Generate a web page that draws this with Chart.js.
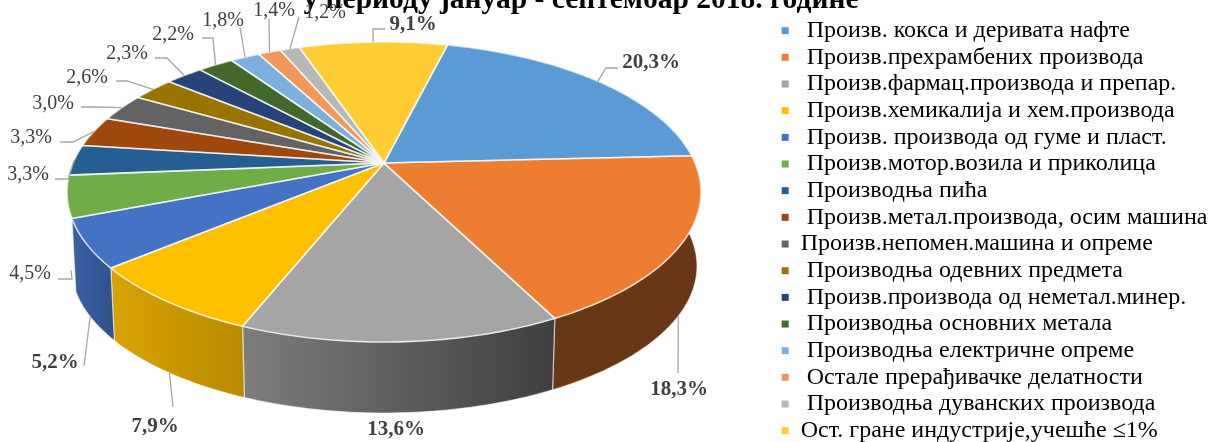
<!DOCTYPE html>
<html>
<head>
<meta charset="utf-8">
<style>
  html, body { margin: 0; padding: 0; background: #fff; overflow: hidden; }
  canvas { display: block; }
</style>
<script src="https://cdn.jsdelivr.net/npm/chart.js@4"></script>
</head>
<body>
<canvas id="grafikon" width="1217" height="442"></canvas>
<script>
// Podaci sa slike
const naslov = "у периоду јануар - септембар 2018. године";
// razmak na pocetku je namjeran, legenda u originalu ima isti uvlak
const kategorije = [
  " Произв. кокса и деривата нафте",
  " Произв.прехрамбених производа",
  " Произв.фармац.производа и препар.",
  " Произв.хемикалија и хем.производа",
  " Произв. производа од гуме и пласт.",
  " Произв.мотор.возила и приколица",
  " Производња пића",
  " Произв.метал.производа, осим машина",
  "Произв.непомен.машина и опреме",
  " Производња одевних предмета",
  " Произв.производа од неметал.минер.",
  " Производња основних метала",
  " Производња електричне опреме",
  " Остале прерађивачке делатности",
  " Производња дуванских производа",
  "Ост. гране индустрије,учешће ≤1%"
];
const vrijednosti = [20.3, 18.3, 13.6, 7.9, 5.2, 4.5, 3.3, 3.3, 3.0, 2.6, 2.3, 2.2, 1.8, 1.4, 1.2, 9.1];
const boje = ["#5b9bd5", "#ed7d31", "#a5a5a5", "#ffc000", "#4472c4", "#70ad47", "#255e91", "#9e480e",
              "#636363", "#997300", "#264478", "#43682b", "#7cafdd", "#f1975a", "#b7b7b7", "#ffcd33"];
const boldOznake = [1, 1, 1, 1, 1, 0, 0, 0, 0, 0, 0, 0, 0, 0, 0, 1];

// Stil: zatamnjenje boka [lijevo, desno], samo za kriske kojima se bok vidi
const sjenke = [[.6, .6], [.44, .44], [.76, .38], [.85, .72], [.85, .7]];

// Raspored oznaka: sredina teksta, koljeno linije, kraj linije kod teksta
// naDnu = linija ide do donjeg ruba kriske
const rasporedOznaka = [
  { x: 651, y: 61, koljeno: [606, 68], kraj: [618, 68] },
  { x: 679, y: 388, kraj: [678, 373], naDnu: true, bezKoljena: true },
  { x: 396, y: 428 },
  { x: 155, y: 425, kraj: [173, 407], naDnu: true, bezKoljena: true },
  { x: 55, y: 361, kraj: [84, 366], naDnu: true, bezKoljena: true },
  { x: 30, y: 272, koljeno: [72, 279], kraj: [58, 279], naDnu: true },
  { x: 28, y: 173, koljeno: [68, 179], kraj: [55, 179] },
  { x: 31, y: 136, koljeno: [73, 142], kraj: [60, 142] },
  { x: 53, y: 102, koljeno: [95, 107], kraj: [81, 107] },
  { x: 87, y: 76, koljeno: [127, 81], kraj: [116, 81] },
  { x: 127, y: 52, koljeno: [167, 58], kraj: [155, 58] },
  { x: 173, y: 33, koljeno: [213, 38], kraj: [202, 38] },
  { x: 223, y: 19, kraj: [240, 27], bezKoljena: true },
  { x: 274, y: 9, kraj: [269, 19], bezKoljena: true },
  { x: 325, y: 11, kraj: [299, 17], bezKoljena: true },
  { x: 413, y: 23, koljeno: [373, 29], kraj: [385, 29] }
];

// Geometrija perspektive
const gornja = { cx: 384, cy: 192, rx: 317, ry: 150 };
const donja = { cx: 384, cy: 266, rx: 313, ry: 147 };
const P = 0.193; // pomak vrha pite zbog perspektive
const S = Math.sqrt(1 - P * P);

// Projekcija tacke kruga na elipsu (vrh pite nije u centru elipse)
function projekcija(e, u, v) {
  const d = 1 - P * v;
  return [e.cx + e.rx * S * u / d, e.cy + e.ry * (v - P) / d];
}
function naRubu(e, ugao) {
  return projekcija(e, Math.cos(ugao), Math.sin(ugao));
}
function tackeLuka(e, a, b) {
  const n = Math.max(2, Math.ceil((b - a) / 0.02));
  const t = [];
  for (let i = 0; i <= n; i++) t.push(naRubu(e, a + (b - a) * i / n));
  return t;
}
function pomnozi(hex, f) {
  const n = parseInt(hex.slice(1), 16);
  const k = [n >> 16, (n >> 8) & 255, n & 255].map(c => Math.round(c * f));
  return `rgb(${k[0]},${k[1]},${k[2]})`;
}
function putanja(ctx, tacke) {
  ctx.beginPath();
  tacke.forEach((t, i) => i ? ctx.lineTo(t[0], t[1]) : ctx.moveTo(t[0], t[1]));
  ctx.closePath();
}

// Crta pitu iz uglova koje izracuna Chart.js, samo u 3D projekciji
const pita3d = {
  id: "pita3d",
  beforeDatasetsDraw(chart) {
    const ctx = chart.ctx;
    const luci = chart.getDatasetMeta(0).data;
    ctx.save();
    ctx.lineJoin = "round";

    // bokovi
    luci.forEach((luk, i) => {
      if (!sjenke[i]) return;
      const gore = tackeLuka(gornja, luk.startAngle, luk.endAngle);
      const dole = tackeLuka(donja, luk.startAngle, luk.endAngle).reverse();
      const sve = gore.concat(dole);
      const xs = sve.map(t => t[0]);
      const g = ctx.createLinearGradient(Math.min(...xs), 0, Math.max(...xs), 0);
      g.addColorStop(0, pomnozi(boje[i], sjenke[i][0]));
      g.addColorStop(1, pomnozi(boje[i], sjenke[i][1]));
      putanja(ctx, sve);
      ctx.fillStyle = g;
      ctx.fill();
      ctx.strokeStyle = "rgba(255,255,255,0.55)";
      ctx.lineWidth = 1.2;
      ctx.stroke();
    });

    // gornja povrsina
    const vrh = projekcija(gornja, 0, 0);
    luci.forEach((luk, i) => {
      putanja(ctx, [vrh].concat(tackeLuka(gornja, luk.startAngle, luk.endAngle)));
      ctx.fillStyle = boje[i];
      ctx.fill();
    });
    luci.forEach((luk) => {
      putanja(ctx, [vrh].concat(tackeLuka(gornja, luk.startAngle, luk.endAngle)));
      ctx.strokeStyle = "rgba(255,255,255,0.65)";
      ctx.lineWidth = 1.6;
      ctx.stroke();
    });
    ctx.restore();
    return false; // default luk se ne crta
  },
  afterDraw(chart) {
    const ctx = chart.ctx;
    const luci = chart.getDatasetMeta(0).data;
    ctx.save();
    ctx.textAlign = "center";
    ctx.textBaseline = "middle";
    luci.forEach((luk, i) => {
      const r = rasporedOznaka[i];
      if (r.kraj) {
        const srednji = (luk.startAngle + luk.endAngle) / 2;
        const sidro = naRubu(r.naDnu ? donja : gornja, srednji);
        ctx.beginPath();
        ctx.moveTo(sidro[0], sidro[1]);
        if (!r.bezKoljena) ctx.lineTo(r.koljeno[0], r.koljeno[1]);
        ctx.lineTo(r.kraj[0], r.kraj[1]);
        ctx.strokeStyle = "#a6a6a6";
        ctx.lineWidth = 1.3;
        ctx.stroke();
      }
      ctx.font = boldOznake[i] ? "bold 21px 'Liberation Serif'" : "20px 'Liberation Serif'";
      ctx.fillStyle = "#404040";
      // +2 jer "middle" sjedi malo iznad sredine cifara
      ctx.fillText(vrijednosti[i].toFixed(1).replace(".", ",") + "%", r.x, r.y + 2);
    });
    ctx.restore();
  },
  afterLayout(chart) {
    // naslov i legenda nisu tamo gdje ih layout stavlja
    chart.titleBlock.left = 161;
    chart.titleBlock.right = 1001;
    chart.legend.left = 779;
    chart.legend.top = 16;
    chart.legend.bottom = 460; // inace zadnji red prelazi u novu kolonu
  }
};

new Chart(document.getElementById("grafikon"), {
  type: "pie",
  data: {
    labels: kategorije,
    datasets: [{ data: vrijednosti, backgroundColor: boje, borderWidth: 0 }]
  },
  plugins: [pita3d],
  options: {
    responsive: false,
    animation: false,
    rotation: 14,
    plugins: {
      title: {
        display: true,
        text: naslov,
        color: "#000",
        font: { family: "'Liberation Serif'", size: 29.5, weight: "bold" },
        padding: { top: -17.5, bottom: -17.5 }
      },
      legend: {
        position: "right",
        align: "start",
        labels: {
          boxWidth: 7,
          boxHeight: 7,
          padding: 2.67,
          color: "#000",
          font: { family: "'Liberation Serif'", size: 24 }
        }
      },
      tooltip: { enabled: false }
    }
  }
});
</script>
</body>
</html>
